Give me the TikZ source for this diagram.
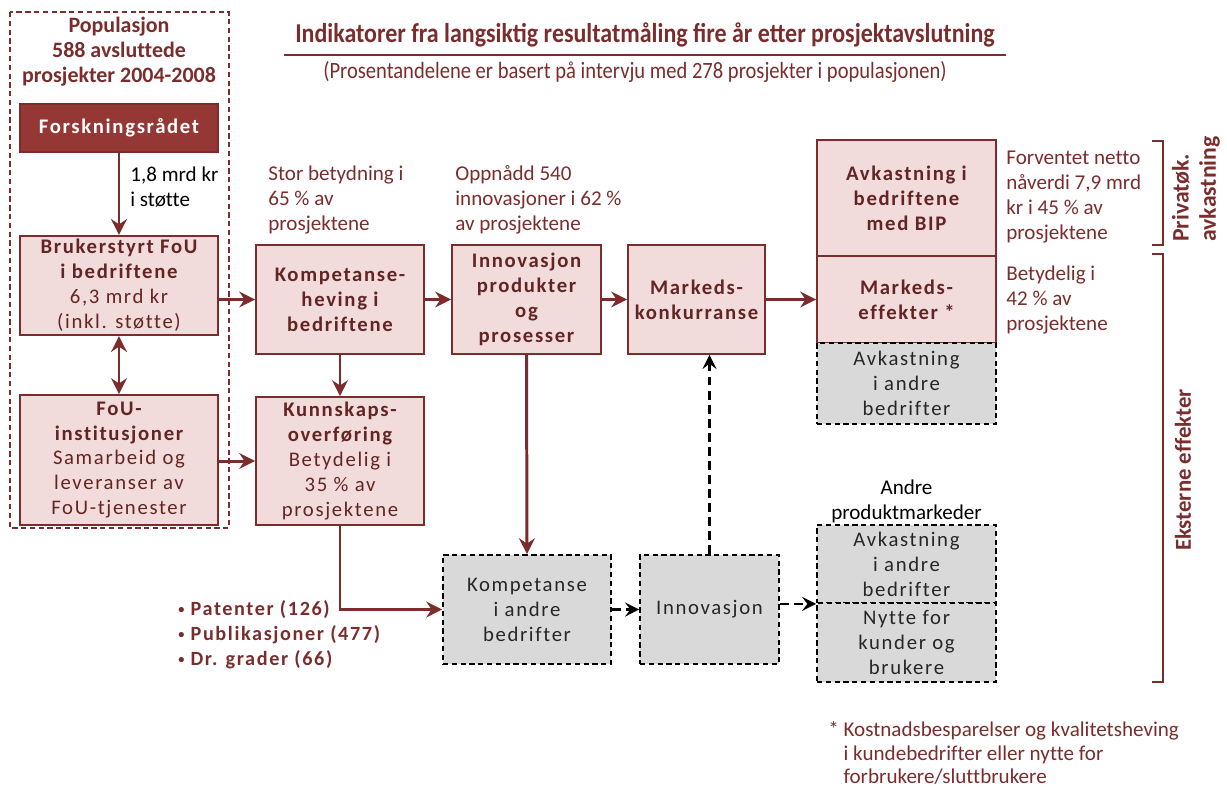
\documentclass[tikz,border=0pt]{standalone}
\usepackage{fontspec}
\setmainfont{Carlito}[Ligatures={TeX,NoCommon}]
\newfontfamily\boksfont[LetterSpace=8,Ligatures=NoCommon]{Carlito}
\newfontfamily\smalfont[FakeStretch=0.88]{Carlito}
\usetikzlibrary{arrows.meta}
\definecolor{fouRed}{HTML}{7B2D2D}
\definecolor{fouDark}{HTML}{632523}
\definecolor{fouFill}{HTML}{F2DCDB}
\definecolor{fouHead}{HTML}{953735}
\definecolor{fouGray}{HTML}{D9D9D9}
\newcommand{\punkt}{\raisebox{0.25ex}{\scriptsize\textbullet}\ }
\begin{document}
\begin{tikzpicture}[x=0.02cm,y=-0.02cm,
  redbox/.style={draw=fouRed,line width=1.1pt,fill=fouFill,text=fouDark,align=center,
    font=\boksfont\bfseries\fontsize{11.8}{14.2}\selectfont,inner sep=2pt},
  graybox/.style={draw=black,line width=1pt,dash pattern=on 3pt off 2pt,fill=fouGray,
    text=black!85,align=center,font=\boksfont\fontsize{11.8}{14.2}\selectfont,inner sep=2pt},
  note/.style={align=left,text=fouRed,font=\fontsize{12}{14.2}\selectfont,inner sep=0pt},
  pil/.style={draw=fouRed,line width=1.7pt,-{Stealth[length=9pt,width=9pt,inset=3pt]}},
  stipl/.style={draw=black,line width=1.5pt,dash pattern=on 5pt off 3pt,
    -{Stealth[length=8pt,width=8pt,inset=3pt]}},
  klamme/.style={draw=fouRed,line width=1.2pt}]
\useasboundingbox (0,0) rectangle (1227,789);

% populasjonen
\draw[fouRed,line width=1.1pt,dash pattern=on 3pt off 2pt] (10,12) rectangle (229,528);
\node[text=fouRed,font=\bfseries\fontsize{12.5}{14.2}\selectfont,align=center] (pop) at (119,52)
  {Populasjon\\588 avsluttede\\prosjekter 2004-2008};
\node[redbox,fill=fouHead,text=white,minimum width=3.96cm,minimum height=0.96cm] (forsk) at (119,128) {Forskningsrådet};
\node[redbox,minimum width=3.96cm,minimum height=1.82cm] (bruker) at (119,285.5)
  {Brukerstyrt FoU\\i bedriftene\\\mdseries 6,3 mrd kr\\\mdseries (inkl. støtte)};
\node[redbox,minimum width=3.96cm,minimum height=2.6cm] (fouinst) at (119,460)
  {FoU-\\institusjoner\\\mdseries Samarbeid og\\\mdseries leveranser av\\\mdseries FoU-tjenester};
\node[note,text=black,anchor=west] (stotte) at (130,187) {1,8 mrd kr\\i støtte};

% overskrift
\node[text=fouRed,font=\smalfont\bfseries\fontsize{15.5}{18}\selectfont] (tittel) at (645,35)
  {Indikatorer fra langsiktig resultatmåling fire år etter prosjektavslutning};
\draw[fouRed,line width=1.3pt] ([xshift=-3pt,yshift=-1pt]tittel.south west) -- ([xshift=3pt,yshift=-1pt]tittel.south east);
\node[text=fouRed,font=\smalfont\fontsize{13.3}{15}\selectfont] (undertittel) at (635,72)
  {(Prosentandelene er basert på intervju med 278 prosjekter i populasjonen)};

% effektkjeden
\node[redbox,minimum width=3.36cm,minimum height=2.18cm] (komp) at (340,299.5) {Kompetanse-\\heving i\\bedriftene};
\node[redbox,minimum width=3.36cm,minimum height=2.56cm] (kunnsk) at (340,461)
  {Kunnskaps-\\overføring\\\mdseries Betydelig i\\\mdseries 35 \% av\\\mdseries prosjektene};
\node[redbox,minimum width=2.98cm,minimum height=2.18cm] (innov) at (526.5,299.5) {Innovasjon\\produkter\\og\\prosesser};
\node[redbox,minimum width=2.74cm,minimum height=2.18cm] (marked) at (696.5,299.5) {Markeds-\\konkurranse};
\node[redbox,minimum width=3.58cm,minimum height=2.32cm] (bip) at (906.5,198) {Avkastning i\\bedriftene\\med BIP};
\node[redbox,minimum width=3.58cm,minimum height=1.74cm] (markeff) at (906.5,299.5) {Markeds-\\effekter *};
\node[graybox,minimum width=3.58cm,minimum height=1.62cm] (avkandre) at (906.5,383.5) {Avkastning\\i andre\\bedrifter};

\node[note,anchor=west] (stor) at (268,200) {Stor betydning i\\65 \% av\\prosjektene};
\node[note,anchor=west] (oppnadd) at (455,200) {Oppnådd 540\\innovasjoner i 62 \%\\av prosjektene};
\node[note,anchor=west] (forventet) at (1006,197) {Forventet netto\\nåverdi 7,9 mrd\\kr i 45 \% av\\prosjektene};
\node[note,anchor=west] (betydelig) at (1006,300) {Betydelig i\\42 \% av\\prosjektene};

% eksterne effekter
\node[graybox,minimum width=3.36cm,minimum height=2.18cm] (kompandre) at (527,609.5) {Kompetanse\\i andre\\bedrifter};
\node[graybox,minimum width=2.78cm,minimum height=2.18cm] (innovandre) at (709.5,609.5) {Innovasjon};
\node[graybox,minimum width=3.58cm,minimum height=1.56cm] (avkandre2) at (906.5,564) {Avkastning\\i andre\\bedrifter};
\node[graybox,minimum width=3.58cm,minimum height=1.58cm] (nytte) at (906.5,642.5) {Nytte for\\kunder og\\brukere};
\node[note,text=black,align=center] (andreprod) at (906.5,501) {Andre\\produktmarkeder};
\node[note,font=\boksfont\bfseries\fontsize{11.5}{14.2}\selectfont,anchor=west] (resultater) at (178,635)
  {\punkt Patenter (126)\\\punkt Publikasjoner (477)\\\punkt Dr. grader (66)};
\node[note,anchor=west,font=\fontsize{12}{13.6}\selectfont] (fotnote) at (828,753)
  {* Kostnadsbesparelser og kvalitetsheving\\\phantom{* }i kundebedrifter eller nytte for\\\phantom{* }forbrukere/sluttbrukere};

% klammer
\coordinate (pa) at (1163,141);
\coordinate (pb) at (1163,245);
\coordinate (ea) at (1163,254);
\coordinate (eb) at (1163,682);
\draw[klamme] ([xshift=-6pt]pa) -- (pa) -- (pb) -- ([xshift=-6pt]pb);
\draw[klamme] ([xshift=-6pt]ea) -- (ea) -- (eb) -- ([xshift=-6pt]eb);
\node[note,rotate=90,anchor=west,font=\bfseries\fontsize{13.5}{15.5}\selectfont] (privat) at (1196,242) {Privatøk.\\avkastning};
\node[note,rotate=90,font=\bfseries\fontsize{13}{15.5}\selectfont] (eksterne) at (1183,470) {Eksterne effekter};

% piler
\path[pil] (forsk) -- (bruker);
\path[pil,{Stealth[length=9pt,width=9pt,inset=3pt]}-{Stealth[length=9pt,width=9pt,inset=3pt]}] (bruker) -- (fouinst);
\path[pil] (bruker.east |- komp) -- (komp.west);
\path[pil] (fouinst.east |- kunnsk) -- (kunnsk.west);
\path[pil] (komp) -- (kunnsk);
\path[pil] (komp) -- (innov);
\path[pil] (innov) -- (marked);
\path[pil] (marked) -- (markeff);
\path[pil] (innov.south) -- (kompandre.north);
\path[pil] (kunnsk.south) |- (kompandre.west);
\path[stipl] (kompandre) -- (innovandre);
\path[stipl] (innovandre.north) -- (innovandre.north |- marked.south);
\path[stipl] (innovandre.east |- avkandre2.south) -- (avkandre2.south west);
\end{tikzpicture}
\end{document}
